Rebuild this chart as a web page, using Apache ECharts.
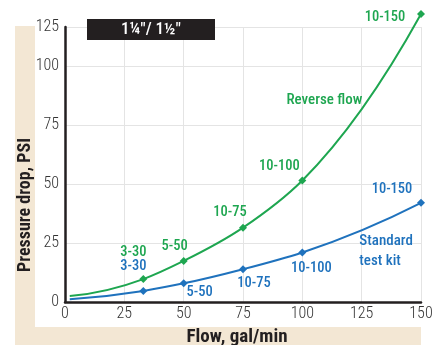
<!DOCTYPE html>
<html><head><meta charset="utf-8">
<script src="https://cdn.jsdelivr.net/npm/echarts@6/dist/echarts.min.js"></script>
<style>html,body{margin:0;padding:0;background:#fff}#c{width:438px;height:345px}</style>
</head><body><div id="c"></div>
<script>
const flow = [2, 33, 50, 75, 100, 150];
const reverseFlow = [2.5, 9.7, 17.4, 31.5, 51.5, 122];
const standardKit = [1.2, 4.7, 7.9, 13.9, 21, 42];
const reverseLabels = ['', '3-30', '5-50', '10-75', '10-100', '10-150'];
const standardLabels = ['', '3-30', '5-50', '10-75', '10-100', '10-150'];
const yTickLabels = ['0', '25', '50', '75', '100', '125'];
const titleText = '1\u00BC"/ 1\u00BD"';

const FONT = "'Roboto Condensed', 'DejaVu Sans Condensed', sans-serif";
const GREEN = '#1ea650';
const BLUE = '#1f72bd';
const revOff = [null, [-10, -27], [-9, -15], [-13, -15], [-23, -14], [-36, 3]];
const stdOff = [null, [-10, -25], [16, 9], [11, 14], [9, 16], [-29, -13]];

function mk(vals, labels, offs, color) {
  return flow.map((x, i) => ({
    value: [x, vals[i]],
    symbol: i === 0 ? 'none' : 'diamond',
    label: labels[i] ? { show: true, formatter: labels[i], position: 'inside', offset: offs[i],
      color: color, fontFamily: FONT, fontWeight: 500, fontSize: 14.5, align: 'center', verticalAlign: 'middle' } : { show: false }
  }));
}

// smooth curve through the data points (cubic Hermite, three-point tangents), positioned by the axis scales
function curveSeries(vals, color) {
  return {
    type: 'custom', coordinateSystem: 'cartesian2d', clip: false, silent: true, z: 1,
    data: [[flow[0], vals[0]]],
    renderItem: function (params, api) {
      const p = flow.map((x, i) => api.coord([x, vals[i]]));
      const n = p.length, h = [], d = [], m = [];
      for (let i = 0; i < n - 1; i++) { h.push(p[i + 1][0] - p[i][0]); d.push((p[i + 1][1] - p[i][1]) / h[i]); }
      m[0] = d[0] - (d[1] - d[0]) * h[0] / (h[0] + h[1]);
      for (let i = 1; i < n - 1; i++) m[i] = (d[i - 1] * h[i] + d[i] * h[i - 1]) / (h[i - 1] + h[i]);
      m[n - 1] = d[n - 2] + (d[n - 2] - d[n - 3]) * h[n - 2] / (h[n - 3] + h[n - 2]);
      let path = 'M' + p[0][0] + ' ' + p[0][1];
      for (let i = 0; i < n - 1; i++) {
        const t = h[i] / 3;
        path += ' C' + (p[i][0] + t) + ' ' + (p[i][1] + m[i] * t) + ' ' + (p[i + 1][0] - t) + ' ' + (p[i + 1][1] - m[i + 1] * t) + ' ' + p[i + 1][0] + ' ' + p[i + 1][1];
      }
      return { type: 'path', shape: { pathData: path }, style: { stroke: color, lineWidth: 2, fill: null } };
    }
  };
}

const chart = echarts.init(document.getElementById('c'), null, { renderer: 'canvas' });
chart.setOption({
  animation: false,
  grid: { left: 65, right: 17, top: 27, bottom: 43 },
  graphic: [
    { type: 'rect', z: -10, shape: { x: 15, y: 26, width: 20, height: 319 }, style: { fill: '#f3e7d4' } },
    { type: 'rect', z: -10, shape: { x: 15, y: 327, width: 406, height: 18 }, style: { fill: '#f3e7d4' } },
    { type: 'rect', z: 10, shape: { x: 87, y: 19, width: 128, height: 21 }, style: { fill: '#231f20' } },
    { type: 'text', z: 11, x: 151, y: 30, style: { text: titleText, fill: '#fff', font: '500 17px ' + FONT, textAlign: 'center', textVerticalAlign: 'middle' } },
    { type: 'text', z: 11, x: 25, y: 205, rotation: Math.PI / 2, style: { text: 'Pressure drop, PSI', fill: '#231f20', font: 'bold 18px ' + FONT, textAlign: 'center', textVerticalAlign: 'middle' } },
    { type: 'text', z: 11, x: 237, y: 337, style: { text: 'Flow, gal/min', fill: '#231f20', font: 'bold 19px ' + FONT, textAlign: 'center', textVerticalAlign: 'middle' } }
  ],
  xAxis: {
    type: 'value', min: 0, max: 150, interval: 25,
    axisLine: { show: true, lineStyle: { color: '#231f20', width: 2.5 } },
    axisTick: { show: false },
    axisLabel: { color: '#333', fontFamily: FONT, fontWeight: 300, fontSize: 16, margin: 4 },
    splitLine: { show: true, lineStyle: { color: '#e4e4e4', width: 1 } }
  },
  yAxis: {
    type: 'value', min: 0, max: 116.5, interval: 25,
    axisLine: { show: true, lineStyle: { color: '#231f20', width: 2.5 } },
    axisTick: { show: false },
    axisLabel: { color: '#333', fontFamily: FONT, fontWeight: 300, fontSize: 16, margin: 6, showMaxLabel: true,
      formatter: v => v > 110 ? yTickLabels[5] : yTickLabels[Math.round(v / 25)] },
    splitLine: { show: true, lineStyle: { color: '#e4e4e4', width: 1 } }
  },
  series: [
    curveSeries(reverseFlow, GREEN),
    curveSeries(standardKit, BLUE),
    { type: 'line', name: 'Reverse flow', data: mk(reverseFlow, reverseLabels, revOff, GREEN), z: 3,
      clip: false, symbolSize: 8, lineStyle: { width: 0, opacity: 0 }, itemStyle: { color: GREEN },
      markPoint: { symbol: 'circle', symbolSize: 0, data: [{ coord: [109.3, 85.4], label: { show: true, formatter: 'Reverse flow', color: GREEN, fontFamily: FONT, fontWeight: 500, fontSize: 15, position: 'inside' } }] } },
    { type: 'line', name: 'Standard test kit', data: mk(standardKit, standardLabels, stdOff, BLUE), z: 3,
      clip: false, symbolSize: 8, lineStyle: { width: 0, opacity: 0 }, itemStyle: { color: BLUE },
      markPoint: { symbol: 'circle', symbolSize: 0, data: [{ coord: [124, 21.4], label: { show: true, formatter: 'Standard\ntest kit', color: BLUE, fontFamily: FONT, fontWeight: 500, fontSize: 15, lineHeight: 19.5, position: 'inside', align: 'left' } }] } }
  ]
});
</script></body></html>
